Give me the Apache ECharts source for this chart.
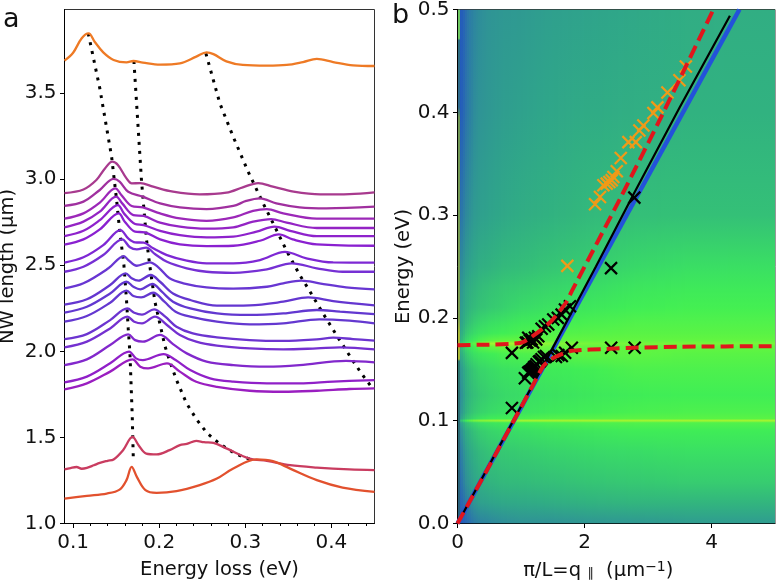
<!DOCTYPE html>
<html><head><meta charset="utf-8">
<style>html,body{margin:0;padding:0;background:#fff}#c{width:776px;height:581px}</style>
<script src="https://cdn.jsdelivr.net/npm/echarts@6/dist/echarts.min.js"></script>
</head><body><div id="c"></div>
<script>
// ---- panel a: spectra, [energy loss], [NW length offset]
const topX=[.09,.1,.11,.118,.125,.135,.147,.162,.17,.181,.201,.224,.243,.255,.263,.278,.297,.325,.348,.367,.383,.402,.425,.45];
const topY=[3.688,3.734,3.818,3.846,3.798,3.736,3.692,3.678,3.686,3.677,3.665,3.672,3.711,3.736,3.726,3.684,3.663,3.659,3.663,3.68,3.698,3.68,3.661,3.657];
const c01X=[.09,.112,.127,.137,.1455,.152,.162,.168,.178,.193,.216,.247,.278,.297,.315,.332,.356,.387,.421,.45];
const c01Y=[2.919,2.94,2.995,3.062,3.101,3.082,3.004,2.975,2.977,2.956,2.927,2.911,2.921,2.952,2.977,2.956,2.927,2.911,2.913,2.923];
const c02X=[.09,.112,.131,.147,.154,.164,.181,.201,.224,.255,.286,.301,.317,.336,.363,.394,.45];
const c02Y=[2.844,2.869,2.937,3.001,2.985,2.927,2.898,2.859,2.836,2.826,2.844,2.873,2.888,2.859,2.836,2.83,2.84];
const c03X=[.09,.112,.131,.149,.156,.168,.181,.201,.224,.255,.286,.309,.325,.344,.383,.45];
const c03Y=[2.77,2.801,2.863,2.946,2.908,2.844,2.836,2.801,2.772,2.758,2.778,2.816,2.826,2.801,2.77,2.77];
const c04X=[.09,.112,.131,.15,.157,.17,.182,.201,.224,.255,.286,.309,.33,.348,.383,.45];
const c04Y=[2.72,2.753,2.811,2.898,2.859,2.791,2.786,2.747,2.724,2.712,2.72,2.753,2.768,2.747,2.716,2.716];
const c05X=[.09,.112,.131,.152,.159,.172,.182,.201,.224,.255,.286,.313,.334,.352,.383,.45];
const c05Y=[2.669,2.7,2.762,2.849,2.801,2.739,2.733,2.7,2.675,2.662,2.666,2.695,2.724,2.7,2.669,2.669];
const c06X=[.09,.112,.131,.153,.16,.172,.183,.201,.224,.255,.286,.317,.339,.355,.383,.45];
const c06Y=[2.619,2.65,2.708,2.801,2.753,2.695,2.691,2.65,2.621,2.611,2.613,2.642,2.679,2.65,2.621,2.613];
const c07X=[.09,.112,.135,.155,.164,.172,.182,.193,.209,.232,.255,.286,.317,.346,.371,.402,.45];
const c07Y=[2.515,2.546,2.617,2.704,2.656,2.633,2.631,2.598,2.559,2.526,2.511,2.511,2.53,2.578,2.54,2.516,2.515];
const c08X=[.09,.112,.135,.157,.166,.174,.185,.195,.209,.232,.255,.286,.325,.354,.383,.413,.45];
const c08Y=[2.462,2.491,2.559,2.65,2.604,2.592,2.602,2.565,2.52,2.482,2.462,2.456,2.476,2.511,2.482,2.462,2.462];
const c09X=[.09,.112,.141,.159,.164,.174,.189,.199,.212,.228,.255,.286,.325,.344,.365,.386,.417,.45];
const c09Y=[2.366,2.395,2.482,2.553,2.53,2.497,2.517,2.488,2.424,2.395,2.371,2.364,2.375,2.395,2.41,2.395,2.371,2.36];
const c10X=[.09,.116,.143,.161,.168,.176,.19,.201,.216,.236,.267,.305,.344,.373,.402,.45];
const c10Y=[2.271,2.302,2.385,2.453,2.424,2.41,2.443,2.404,2.336,2.298,2.265,2.267,2.288,2.313,2.292,2.267];
const c11X=[.09,.116,.143,.162,.17,.178,.192,.203,.216,.236,.267,.305,.344,.383,.41,.45];
const c11Y=[2.224,2.259,2.336,2.404,2.375,2.36,2.391,2.346,2.288,2.249,2.22,2.211,2.22,2.24,2.23,2.216];
const c12X=[.09,.116,.143,.162,.17,.179,.193,.206,.219,.236,.267,.305,.344,.386,.421,.45];
const c12Y=[2.172,2.205,2.282,2.352,2.321,2.313,2.34,2.288,2.23,2.201,2.172,2.156,2.162,2.186,2.178,2.162];
const c13X=[.09,.116,.143,.163,.171,.18,.194,.207,.22,.239,.267,.305,.344,.383,.402,.425,.45];
const c13Y=[2.071,2.1,2.181,2.249,2.224,2.213,2.244,2.201,2.143,2.104,2.081,2.065,2.06,2.069,2.079,2.071,2.062];
const c14X=[.09,.116,.143,.163,.171,.18,.195,.209,.224,.243,.267,.305,.344,.383,.41,.45];
const c14Y=[2.023,2.056,2.133,2.201,2.172,2.162,2.201,2.153,2.095,2.056,2.033,2.017,2.011,2.017,2.023,2.011];
const c15X=[.09,.116,.143,.164,.172,.181,.201,.216,.232,.255,.286,.325,.363,.417,.45];
const c15Y=[1.92,1.953,2.036,2.098,2.065,2.056,2.095,2.042,1.988,1.94,1.92,1.911,1.92,1.945,1.936];
const c16X=[.09,.116,.143,.165,.173,.181,.205,.219,.236,.259,.286,.325,.363,.402,.45];
const c16Y=[1.82,1.853,1.93,1.998,1.959,1.949,1.984,1.949,1.891,1.843,1.824,1.814,1.814,1.824,1.833];
const c17X=[.09,.116,.143,.169,.178,.187,.209,.224,.243,.267,.305,.344,.383,.421,.45];
const c17Y=[1.779,1.814,1.882,1.953,1.911,1.901,1.93,1.882,1.823,1.794,1.771,1.765,1.771,1.781,1.785];
const crimX=[.09,.097,.104,.11,.116,.124,.131,.14,.147,.158,.169,.176,.185,.197,.212,.224,.232,.243,.252,.263,.278,.305,.325,.352,.383,.421,.45];
const crimY=[1.314,1.322,1.328,1.318,1.323,1.338,1.352,1.364,1.372,1.426,1.503,1.455,1.406,1.401,1.426,1.455,1.462,1.48,1.472,1.468,1.436,1.377,1.364,1.339,1.325,1.314,1.31];
const botX=[.09,.116,.139,.154,.162,.168,.174,.184,.197,.22,.247,.267,.286,.313,.332,.352,.383,.413,.45];
const botY=[1.145,1.161,1.174,1.197,1.252,1.329,1.271,1.194,1.178,1.188,1.223,1.261,1.319,1.372,1.362,1.319,1.252,1.209,1.184];
const curveXs=[topX,c01X,c02X,c03X,c04X,c05X,c06X,c07X,c08X,c09X,c10X,c11X,c12X,c13X,c14X,c15X,c16X,c17X,crimX,botX];
const curveYs=[topY,c01Y,c02Y,c03Y,c04Y,c05Y,c06Y,c07Y,c08Y,c09Y,c10Y,c11Y,c12Y,c13Y,c14Y,c15Y,c16Y,c17Y,crimY,botY];
const curveColors=['#EE7A25','#A83A8E','#A0309F','#9C28B8','#9424C4','#8E22CC','#8A20D0','#7E28D4','#7630D4','#6836D2','#6436D0','#6238D0','#6438D0','#6C34D0','#7430D0','#8228CC','#9020C8','#9A1EC0','#C93C60','#E2512E'];
// dotted guides
const dotAX=[.1176,.131,.1447,.1505,.154,.159,.162,.164,.166,.167,.1687,.17];
const dotAY=[3.846,3.527,3.13,2.879,2.704,2.501,2.298,2.133,1.988,1.852,1.62,1.359];
const dotBX=[.1706,.1795,.1853,.1892,.195,.202,.2066,.2124,.2201,.2317,.2433,.2557,.2704,.2886,.3079];
const dotBY=[3.686,2.985,2.646,2.491,2.288,2.133,2.031,1.94,1.833,1.698,1.605,1.524,1.462,1.404,1.369];
const dotCX=[.2542,.2704,.2859,.3033,.3207,.3342,.3485,.3632,.374,.3902,.4065,.4231,.4347,.4471];
const dotCY=[3.73,3.44,3.246,3.043,2.859,2.724,2.578,2.443,2.356,2.22,2.089,1.959,1.872,1.789];

// ---- panel b: lines and markers
const blueX=[0,4.44]; const blueY=[0,.5];
const blackX=[0,1.45,2.18,2.77,3.5,4.29]; const blackY=[0,.165,.25,.32,.405,.494];
const redUpX=[0,.5,.9,1.05,1.2,1.35,1.48,1.6,1.72,1.8,2.56,3.22,4.03];
const redUpY=[.1735,.174,.175,.177,.183,.19,.197,.206,.216,.226,.316,.397,.5];
const redLoX=[0,.5,1,1.2,1.35,1.48,1.65,1.8,2.4,2.78,3.5,5];
const redLoY=[0,.056,.113,.136,.153,.16,.165,.168,.17,.171,.172,.1725];
const orangeX=[1.73,2.166,2.244,2.297,2.35,2.392,2.429,2.455,2.508,2.571,2.691,2.808,2.864,2.927,3.085,3.148,3.306,3.495,3.596];
const orangeY=[.2506,.3106,.3177,.329,.3306,.3322,.3339,.3371,.3426,.3555,.371,.371,.3823,.3871,.3993,.4048,.4193,.4312,.4445];
const crossX=[.857,.857,1.061,1.114,1.13,1.151,1.17,1.182,1.2,1.209,1.23,1.246,1.282,1.3,1.324,1.361,1.393,1.55,1.589,1.642,1.695,1.8,2.42,2.79,1.077,1.1,1.114,1.14,1.167,1.19,1.219,1.24,1.272,1.325,1.377,1.429,1.508,1.58,1.64,1.692,1.771,2.418,2.785];
const crossY=[.1123,.166,.1413,.1467,.1475,.1484,.149,.15,.151,.1523,.153,.1549,.1574,.158,.1597,.162,.1629,.162,.1638,.1629,.1661,.1709,.1709,.1709,.1758,.176,.1806,.178,.179,.176,.1806,.179,.1822,.1894,.1919,.1935,.1984,.2,.2032,.2081,.2113,.2484,.317];

// ---- panel b: background map, values 0..1 read by eye
const fieldColX=[.03,.08,.125,.185,.26,.36,.5,.72,1,1.45,2.05,2.8,3.6,5];
const fieldRowY=[.5,.4,.3,.25,.23,.21,.195,.185,.178,.175,.172,.165,.15,.125,.108,.102,.1,.098,.09,.07,.04,.02,0];
const fieldRows=[
[.05,.08,.13,.2,.24,.28,.31,.33,.34,.37,.39,.42,.45,.46],
[.05,.09,.15,.21,.27,.31,.33,.36,.38,.41,.44,.46,.48,.48],
[.15,.2,.25,.29,.34,.37,.39,.42,.45,.48,.52,.55,.56,.56],
[.25,.29,.34,.38,.42,.46,.48,.52,.54,.58,.62,.68,.71,.72],
[.3,.35,.41,.45,.49,.53,.56,.6,.62,.66,.7,.75,.77,.77],
[.33,.38,.44,.49,.53,.57,.6,.64,.69,.73,.76,.8,.81,.81],
[.36,.42,.5,.56,.62,.67,.71,.74,.78,.8,.82,.84,.84,.84],
[.4,.48,.57,.64,.69,.74,.77,.8,.82,.84,.85,.86,.86,.86],
[.45,.55,.65,.72,.78,.83,.86,.88,.88,.88,.88,.88,.88,.88],
[.55,.65,.73,.8,.86,.91,.94,.95,.95,.92,.9,.9,.9,.9],
[.48,.58,.67,.74,.8,.85,.88,.89,.9,.89,.88,.88,.88,.88],
[.4,.49,.58,.66,.72,.76,.79,.82,.83,.85,.87,.87,.86,.86],
[.3,.38,.46,.54,.6,.66,.69,.73,.75,.78,.8,.83,.83,.83],
[.25,.33,.43,.5,.55,.6,.64,.68,.7,.73,.76,.79,.8,.8],
[.28,.37,.46,.54,.6,.65,.69,.72,.74,.77,.8,.82,.83,.83],
[.33,.45,.55,.62,.68,.74,.78,.8,.82,.84,.85,.86,.86,.86],
[.5,.62,.78,.86,.9,.92,.93,.94,.95,.95,.95,.95,.95,.95],
[.32,.43,.53,.6,.66,.72,.75,.78,.8,.82,.83,.84,.84,.84],
[.25,.33,.43,.5,.56,.62,.66,.69,.71,.74,.76,.79,.79,.79],
[.18,.26,.34,.41,.47,.53,.57,.6,.62,.65,.68,.7,.72,.72],
[.12,.2,.27,.33,.39,.45,.49,.52,.53,.55,.58,.6,.62,.62],
[.08,.13,.18,.25,.31,.37,.39,.42,.43,.45,.48,.5,.5,.5],
[.05,.07,.1,.14,.19,.23,.25,.28,.3,.3,.32,.33,.35,.35]];
const rimY=[.5,.472,.47,.405,.395,.2,.185,.16,.158,0];
const rimColors=['#6FC860','#6FC860','#2F6E80','#2F6A90','#6F9655','#7A9E50','#A8B838','#A8B838','#2F7A70','#2A5F80'];

const mapStops=[[0,[31,79,196]],[.15,[42,111,174]],[.3,[47,146,150]],[.4,[47,165,138]],[.5,[50,181,126]],[.6,[54,200,114]],[.7,[57,220,102]],[.8,[64,238,85]],[.88,[98,245,64]],[.95,[168,244,46]],[1,[224,240,32]]];
function mapColor(v){
  for(let i=1;i<mapStops.length;i++){
    if(v<=mapStops[i][0]){
      const a=mapStops[i-1],b=mapStops[i],t=(v-a[0])/(b[0]-a[0]);
      return 'rgb('+a[1].map((c,k)=>Math.round(c+(b[1][k]-c)*t)).join(',')+')';
    }
  }
  return 'rgb(224,240,32)';
}
const pair=(xs,ys)=>xs.map((x,i)=>[x,ys[i]]);
const font='"DejaVu Sans"';
const ink='#111';
const tickSize=20, nameSize=19.5;
const fmt=v=>v.toFixed(1);
const fmt0=v=>String(v);

const series=[];
[[dotAX,dotAY],[dotBX,dotBY],[dotCX,dotCY]].forEach(d=>series.push({type:'line',xAxisIndex:0,yAxisIndex:0,data:pair(d[0],d[1]),showSymbol:false,silent:true,z:2,
  lineStyle:{color:'#000',width:3,type:[3,6]}}));
curveXs.forEach((xs,i)=>series.push({type:'line',xAxisIndex:0,yAxisIndex:0,data:pair(xs,curveYs[i]),showSymbol:false,smooth:.35,silent:true,z:3,
  lineStyle:{color:curveColors[i],width:2.3}}));

// background: each gap between two read columns is shaded across, each column's stops run down the read rows
series.push({type:'custom',xAxisIndex:2,yAxisIndex:1,z:1,silent:true,clip:true,
  data:fieldColX.slice(0,-1).map((l,i)=>[l,fieldColX[i+1],i]),encode:{x:[0,1],y:2},
  renderItem:(p,api)=>{
    const k=api.value(2);
    const a=api.coord([api.value(0),.5]),b=api.coord([api.value(1),0]);
    const x0=Math.round(a[0]),x1=Math.round(b[0]),children=[];
    for(let px=x0;px<x1;px+=2){
      const t=(px+1-x0)/(x1-x0);
      children.push({type:'rect',shape:{x:px,y:a[1],width:Math.min(2,x1-px),height:b[1]-a[1]},silent:true,
        style:{fill:new echarts.graphic.LinearGradient(0,0,0,1,fieldRowY.map((y,r)=>({offset:(.5-y)/.5,
          color:mapColor(fieldRows[r][k]+(fieldRows[r][k+1]-fieldRows[r][k])*t)})))}});
    }
    return {type:'group',children};
  }});
series.push({type:'custom',xAxisIndex:2,yAxisIndex:1,z:1,silent:true,clip:true,
  data:[[0,.035,0]],encode:{x:[0,1],y:2},
  renderItem:(p,api)=>{
    const a=api.coord([api.value(0),.5]),b=api.coord([api.value(1),0]);
    return {type:'rect',shape:{x:Math.round(a[0]),y:a[1],width:Math.round(b[0])-Math.round(a[0]),height:b[1]-a[1]},silent:true,
      style:{fill:new echarts.graphic.LinearGradient(0,0,0,1,rimY.map((y,r)=>({offset:(.5-y)/.5,color:rimColors[r]})))}};
  }});
series.push({type:'line',xAxisIndex:2,yAxisIndex:1,data:pair(blueX,blueY),showSymbol:false,silent:true,z:3,lineStyle:{color:'#2352DA',width:4.5,cap:'butt'}});
series.push({type:'line',xAxisIndex:2,yAxisIndex:1,data:pair(blackX,blackY),showSymbol:false,silent:true,z:4,lineStyle:{color:'#000',width:2.2}});
const X='path://M0 0L10 10M10 0L0 10';
series.push({type:'scatter',xAxisIndex:2,yAxisIndex:1,data:pair(orangeX,orangeY),symbol:X,symbolSize:12,silent:true,z:5,
  itemStyle:{color:'none',borderColor:'#F09A18',borderWidth:2.2,opacity:1}});
series.push({type:'scatter',xAxisIndex:2,yAxisIndex:1,data:pair(crossX,crossY),symbol:X,symbolSize:12,silent:true,z:5,
  itemStyle:{color:'none',borderColor:'#000',borderWidth:2.2,opacity:1}});
[[redUpX,redUpY],[redLoX,redLoY]].forEach(d=>series.push({type:'line',xAxisIndex:2,yAxisIndex:1,data:pair(d[0],d[1]),showSymbol:false,smooth:.2,silent:true,z:6,
  lineStyle:{color:'#E0161C',width:4,type:[13,6]}}));

const axisBase={axisLine:{show:true,onZero:false,lineStyle:{color:'#000',width:1}},splitLine:{show:false},
  nameTextStyle:{fontFamily:font,fontSize:nameSize,color:ink},nameLocation:'middle'};
const lab=(f,cv,m)=>({color:ink,fontFamily:font,fontSize:tickSize,margin:m,hideOverlap:false,formatter:f,customValues:cv});
const tick=(cv)=>({show:true,length:4.5,lineStyle:{color:'#000',width:1},customValues:cv});

const chart=echarts.init(document.getElementById('c'),null,{renderer:'canvas'});
chart.setOption({
  animation:false,
  grid:[
    {left:64.5,top:9.5,width:310,height:514,show:true,borderColor:'#333',borderWidth:1,backgroundColor:'#fff',outerBoundsMode:'none'},
    {left:457.5,top:9.5,width:317.5,height:514,show:true,borderColor:'#333',borderWidth:1,backgroundColor:'transparent',outerBoundsMode:'none'}
  ],
  xAxis:[
    Object.assign({},axisBase,{type:'value',gridIndex:0,position:'bottom',min:.09,max:.45,name:'Energy loss (eV)',nameGap:36,
      axisLabel:lab(fmt,[.1,.2,.3,.4],9),axisTick:tick([.1,.2,.3,.4])}),
    {type:'value',gridIndex:0,position:'bottom',min:.09,max:.45,axisLine:{show:false},splitLine:{show:false},axisLabel:{show:false},
      axisTick:{show:true,length:2.5,lineStyle:{color:'#000',width:1},customValues:[.12,.14,.16,.18,.22,.24,.26,.28,.32,.34,.36,.38,.42,.44]}},
    Object.assign({},axisBase,{type:'value',gridIndex:1,position:'bottom',min:0,max:5,name:'π/L=q {s|∥}  (μm{u|−1})',nameGap:37,
      nameTextStyle:{fontFamily:font,fontSize:nameSize,color:ink,padding:[0,36,0,0],rich:{
        s:{fontFamily:font,fontSize:13,color:ink,verticalAlign:'bottom',padding:[6,0,0,0]},
        u:{fontFamily:font,fontSize:14,color:ink,verticalAlign:'top',padding:[0,0,6,0]}}},
      axisLabel:lab(fmt0,[0,2,4],9),axisTick:tick([0,2,4])})
  ],
  yAxis:[
    Object.assign({},axisBase,{type:'value',gridIndex:0,position:'left',min:1,max:3.985,name:'NW length (μm)',nameGap:47,
      axisLabel:lab(fmt,[1,1.5,2,2.5,3,3.5],8),axisTick:tick([1,1.5,2,2.5,3,3.5])}),
    Object.assign({},axisBase,{type:'value',gridIndex:1,position:'left',min:0,max:.5,interval:.1,name:'Energy (eV)',nameGap:40,
      axisLabel:lab(fmt,[0,.1,.2,.3,.4,.5],8),axisTick:tick([0,.1,.2,.3,.4,.5])})
  ],
  graphic:[
    {type:'text',left:3,top:6,style:{text:'a',fontFamily:font,fontSize:27,fill:ink}},
    {type:'text',left:392,top:2,style:{text:'b',fontFamily:font,fontSize:27,fill:ink}}
  ],
  series
});
</script></body></html>
